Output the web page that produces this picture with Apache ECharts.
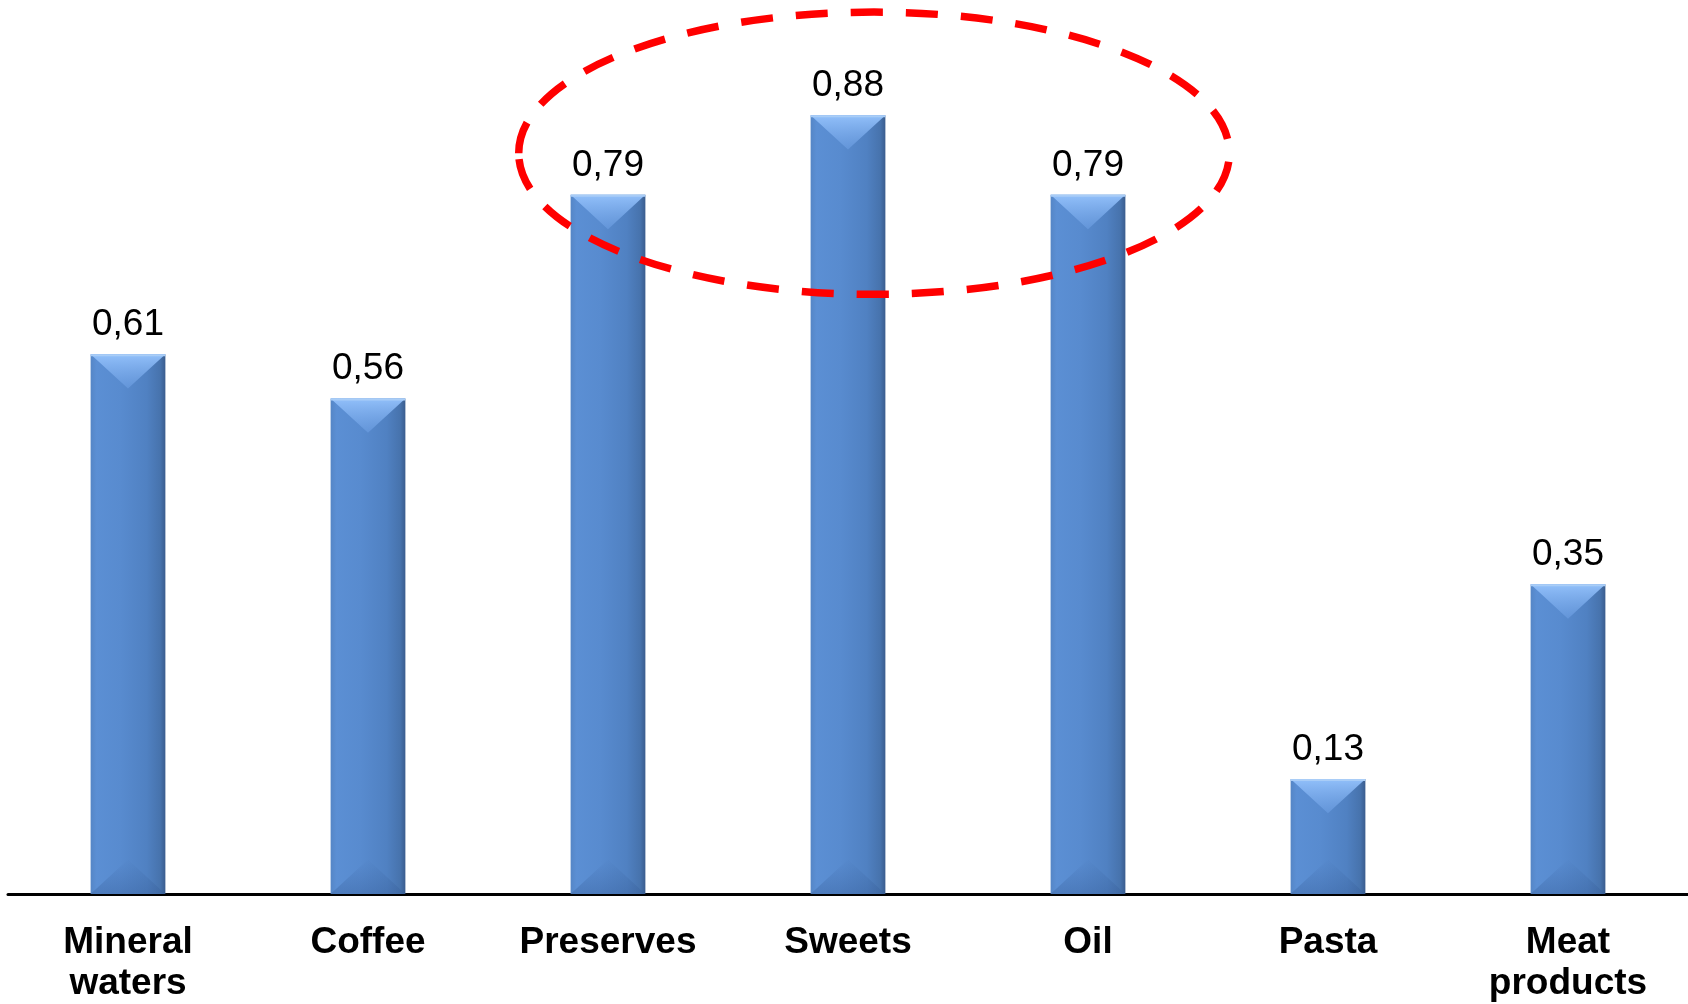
<!DOCTYPE html>
<html>
<head>
<meta charset="utf-8">
<script src="https://cdn.jsdelivr.net/npm/echarts@6/dist/echarts.min.js"></script>
<style>
  html, body { margin: 0; padding: 0; background: #ffffff; }
  #chart { width: 1688px; height: 1004px; }
</style>
</head>
<body>
<div id="chart"></div>
<script>
// Categories and values
const categories = ['Mineral\nwaters', 'Coffee', 'Preserves', 'Sweets', 'Oil', 'Pasta', 'Meat\nproducts'];
const values = [0.61, 0.56, 0.79, 0.88, 0.79, 0.13, 0.35];

// Highlight ring around the three top products (category index range, value range)
const ringCategories = [1.628, 4.589];
const ringValues = [0.6776, 0.9965];

const FONT = '"Liberation Sans", Arial, Helvetica, sans-serif';
const BAR_RATIO = 0.3115;

function fmt(v) { return v.toFixed(2).replace('.', ','); }

function renderBar(params, api) {
  const idx = api.value(0);
  const v = api.value(1);
  const top = api.coord([idx, v]);
  const base = api.coord([idx, 0]);
  const w = api.size([1, 0])[0] * BAR_RATIO;
  const x0 = top[0] - w / 2;
  const x1 = top[0] + w / 2;
  const y0 = top[1];
  const y1 = base[1];
  const h = y1 - y0;
  const d = Math.min(w * 0.46, h / 2);
  return {
    type: 'group',
    children: [
      {
        type: 'rect',
        shape: { x: x0, y: y0, width: w, height: h },
        style: {
          fill: new echarts.graphic.LinearGradient(0, 0, 1, 0, [
            { offset: 0, color: '#5586c6' },
            { offset: 0.08, color: '#5b8fd4' },
            { offset: 0.4, color: '#588bcf' },
            { offset: 0.75, color: '#5081c2' },
            { offset: 0.93, color: '#4773ad' },
            { offset: 1, color: '#3a5d8e' }
          ])
        }
      },
      {
        // lower bevel
        type: 'polygon',
        shape: { points: [[x0, y1], [top[0], y1 - d], [x1, y1]] },
        style: {
          fill: new echarts.graphic.LinearGradient(0, 0, 0, 1, [
            { offset: 0, color: 'rgba(60,100,160,0.0)' },
            { offset: 1, color: 'rgba(55,95,155,0.4)' }
          ])
        }
      },
      {
        // upper bevel
        type: 'polygon',
        shape: { points: [[x0, y0], [x1, y0], [top[0], y0 + d]] },
        style: {
          fill: new echarts.graphic.LinearGradient(0, 0, 0, 1, [
            { offset: 0, color: '#92c0fa' },
            { offset: 1, color: 'rgba(110,160,228,0.55)' }
          ])
        }
      },
      {
        type: 'rect',
        shape: { x: x0, y: y0, width: w, height: 2 },
        style: { fill: '#a9cdf7' }
      },
      {
        type: 'text',
        style: {
          text: fmt(v),
          x: top[0],
          y: y0 - 11,
          align: 'center',
          verticalAlign: 'bottom',
          fill: '#000000',
          font: '37px ' + FONT
        }
      }
    ]
  };
}

const chart = echarts.init(document.getElementById('chart'), null, { renderer: 'canvas' });

chart.setOption({
  animation: false,
  backgroundColor: '#ffffff',
  grid: { left: 8, right: -5, top: 9, bottom: 106, containLabel: false },
  xAxis: {
    type: 'category',
    data: categories,
    axisLine: { show: true, lineStyle: { color: '#000000', width: 3 } },
    axisTick: { show: false },
    axisLabel: {
      interval: 0,
      margin: 28,
      color: '#000000',
      fontFamily: FONT,
      fontWeight: 'bold',
      fontSize: 37,
      lineHeight: 41
    }
  },
  yAxis: {
    type: 'value',
    min: 0,
    max: 1,
    show: false,
    splitLine: { show: false }
  },
  series: [{
    type: 'custom',
    renderItem: renderBar,
    data: values.map((v, i) => [i, v]),
    encode: { x: 0, y: 1 },
    z: 2
  }]
});

// Dashed ring placed in data space
const p0 = chart.convertToPixel({ xAxisIndex: 0 }, 0);
const p1 = chart.convertToPixel({ xAxisIndex: 0 }, 1);
const step = p1 - p0;
const left = p0 + ringCategories[0] * step;
const right = p0 + ringCategories[1] * step;
const bottom = chart.convertToPixel({ yAxisIndex: 0 }, ringValues[0]);
const topY = chart.convertToPixel({ yAxisIndex: 0 }, ringValues[1]);

chart.setOption({
  graphic: [{
    type: 'ellipse',
    z: 100,
    shape: {
      cx: (left + right) / 2,
      cy: (topY + bottom) / 2,
      rx: (right - left) / 2,
      ry: (bottom - topY) / 2
    },
    style: {
      fill: null,
      stroke: '#ff0000',
      lineWidth: 7.5,
      lineDash: [32, 23]
    }
  }]
});
</script>
</body>
</html>
